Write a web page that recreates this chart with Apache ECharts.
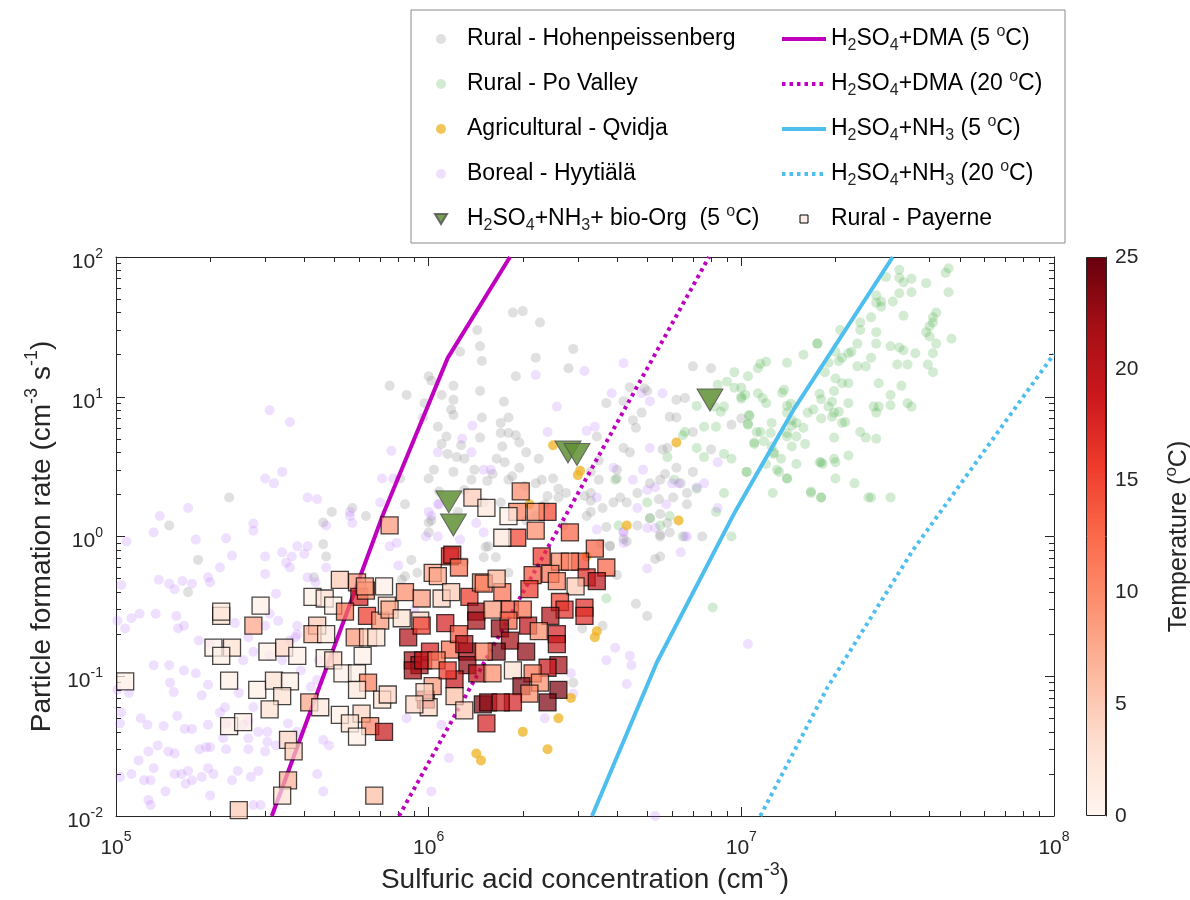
<!DOCTYPE html>
<html>
<head>
<meta charset="utf-8">
<title>Particle formation rate vs sulfuric acid</title>
<script src="https://cdn.jsdelivr.net/npm/echarts@6/dist/echarts.min.js"></script>
<style>
  html, body { margin: 0; padding: 0; background: #fff; }
  #main { width: 1190px; height: 900px; }
</style>
</head>
<body>
<div id="main"></div>
<script>
// ---- data: [H2SO4 (cm-3), J (cm-3 s-1)] ----
var hohenpeissenberg = [
    [7.5e5,12],[8.5e5,10.3],[1.0e6,14],[1.02e6,13],[1.1e6,10.3],[9.7e5,9.0],[9.6e5,7.1],[1.07e6,6.1],
    [1.14e6,5.2],[1.1e6,4.6],[1.04e6,3.0],[1.0e6,2.6],[8.1e5,2.6],[8.4e5,1.7],[6.3e5,1.4],[5.7e5,1.6],
    [4.9e5,1.5],[4.6e5,1.26],[4.6e5,0.88],[1.0e6,1.26],[1.0e6,1.07],[2.3e5,1.9],[1.48e5,1.2],[1.83e5,0.68],
    [1.7e5,0.4],[4.7e5,0.72],[4.3e5,0.51],[8.8e5,0.68],[9.2e5,0.55],[8.4e5,0.52],[8.2e5,0.49],
    [1.86e6,40],[2.0e6,41],[2.27e6,34],[1.43e6,30],[1.46e6,23],[1.26e6,21],[1.48e6,18],[2.2e6,19],
    [2.9e6,22],[1.9e6,14],[2.8e6,16],[1.2e6,12],[1.46e6,11],[1.2e6,9.5],[1.18e6,8.1],[1.2e6,7.4],
    [1.74e6,9.2],[1.48e6,7.1],[1.8e6,7.1],[1.7e6,6.5],[1.8e6,5.5],[1.7e6,5.5],[1.46e6,5.1],[1.9e6,5.3],
    [1.95e6,4.7],[1.27e6,4.5],[1.15e6,3.9],[1.23e6,3.7],[1.3e6,3.6],[2.05e6,4.0],[1.72e6,4.4],[1.65e6,3.6],
    [2.25e6,3.6],[1.75e6,3.4],[1.95e6,3.1],[1.4e6,3.0],[1.2e6,2.9],[1.6e6,2.8],[1.85e6,2.7],[2.5e6,2.6],
    [1.37e6,2.55],[2.3e6,2.55],[1.54e6,2.5],[1.8e6,2.55],[2.03e6,2.3],[2.2e6,2.4],[2.6e6,2.2],[1.08e6,2.1],
    [1.3e6,2.15],[2.4e6,1.95],[2.6e6,1.9],[2.75e6,2.05],[3.15e6,1.95],[3.3e6,1.8],[1.7e6,1.75],[1.5e6,1.75],
    [2.35e6,1.7],[1.24e6,1.5],[3.3e6,1.5],[3.6e6,1.6],[2.2e6,1.4],[2.05e6,1.3],[2.7e6,1.2],[3.2e6,1.4],
    [3.7e6,1.17],[1.02e6,1.3],[1.55e6,0.85],[3.8e6,0.86],
    [3.7e6,9],[4.2e6,9.3],[4.4e6,11.7],[4.9e6,11.5],[4.8e6,7.7],[4.5e6,6.8],[4.6e6,6.0],[3.45e6,5.2],
    [4.2e6,4.3],[4.4e6,4.0],[4.0e6,3.0],[4.0e6,2.6],[3.5e6,3.5],[3.5e6,2.55],[3.3e6,2.05],[4.1e6,1.9],
    [4.3e6,1.75],[4.65e6,2.05],[5.1e6,2.4],[5.5e6,2.55],[5.7e6,2.8],[6.2e6,3.1],[5.8e6,4.3],[5.6e6,4.2],
    [6.6e6,9.8],[6.2e6,9.5],[7.0e6,16.5],[8.0e6,16],[6.2e6,7.1],[7.0e6,5.6],[8.0e6,4.2],[7.0e6,2.9],
    [6.4e6,2.4],[6.7e6,2.05],[6.7e6,1.7],[6.05e6,1.9],[5.45e6,1.85],[5.5e6,1.45],[5.8e6,1.25],[5.1e6,1.35],
    [4.65e6,1.2],[7.5e6,1.0],[5.5e6,1.03],[9.3e6,6.3],[1.0e7,7.0],[5.0e6,11],[5.9e6,7.2],
    [4.0e6,0.53],[4.6e6,0.33],[5.0e6,0.27],[3.6e6,0.23],[3.1e6,0.22],[3.8e6,0.85],[5.5e6,0.72],[5.3e6,0.69],
    [5.9e6,1.07],[5.5e6,1.0],[2.9e6,0.09],[1.3e6,0.66],[1.52e6,0.84],[1.64e6,0.71],[1.8e6,0.55],[4.3e6,0.92],
    [3.3e6,2.9],[3.9e6,1.75],[4.2e6,0.96],[3.55e6,0.89],[1.5e6,0.71]
];

var poValley = [
    [3.2e7,81],[3.2e7,71],[3.3e7,66],[2.9e7,72],[3.5e7,70],[3.9e7,65],[4.5e7,77],[4.6e7,83],
    [4.6e7,56],[3.5e7,56],[3.2e7,55],[3.05e7,48],[2.8e7,48],[2.7e7,53],[2.7e7,47],[2.8e7,44],
    [2.6e7,37],[3.3e7,38],[4.2e7,40],[4.1e7,37],[4.1e7,34],[4.0e7,32],[3.9e7,29],[4.0e7,27],
    [4.7e7,26],[4.2e7,24],[2.7e7,29],[2.4e7,34],[2.4e7,30],[2.35e7,24],[2.35e7,16.5],[2.5e7,16.5],
    [2.7e7,24],[3.0e7,23],[3.2e7,22.5],[3.3e7,21.5],[3.6e7,20.5],[4.1e7,20.5],[3.95e7,17],[4.1e7,15],
    [3.15e7,17],[3.4e7,17],[2.6e7,19],[2.25e7,21],[2.2e7,20.5],[2.07e7,30],[1.75e7,24],[1.58e7,20],
    [1.4e7,17.5],[1.2e7,17.8],[1.15e7,17.2],[1.13e7,16],[1.05e7,14],[1.0e7,11.6],[1.0e7,9.7],[1.05e7,6.4],
    [1.06e7,7.4],[1.13e7,10.6],[1.17e7,9.8],[1.2e7,9.0],[1.15e7,5.6],[1.1e7,4.7],[1.18e7,4.8],[1.25e7,6.5],
    [1.24e7,5.5],[1.35e7,10.7],[1.37e7,11.2],[1.4e7,8.6],[1.44e7,8.9],[1.45e7,6.8],[1.5e7,6.5],[1.4e7,7.7],
    [1.4e7,5.5],[1.5e7,5.2],[1.58e7,6.0],[1.45e7,4.4],[1.34e7,3.6],[1.27e7,4.0],[1.5e7,3.3],[1.25e7,4.4],
    [1.3e7,3.0],[1.4e7,2.6],[1.26e7,2.05],[1.04e7,2.9],[1.67e7,2.1],[1.8e7,1.9],[1.78e7,3.4],[1.82e7,3.3],
    [2.0e7,3.4],[2.0e7,2.6],[1.98e7,3.6],[2.2e7,3.8],[2.55e7,1.9],[1.98e7,5.1],[2.4e7,5.6],[2.5e7,5.1],
    [2.7e7,5.0],[2.1e7,6.5],[2.15e7,6.6],[1.95e7,7.2],[1.8e7,7.0],[1.63e7,7.7],[1.7e7,8.1],[1.9e7,8.5],
    [1.98e7,7.7],[2.05e7,7.8],[1.95e7,9.2],[2.2e7,9.0],[1.98e7,11],[1.8e7,9.6],[1.78e7,10.5],[1.85e7,15],
    [2.0e7,13.5],[2.1e7,12.5],[2.2e7,12.5],[2.1e7,19],[2.0e7,21],[1.9e7,17.5],[2.05e7,18],[2.65e7,8.5],
    [2.75e7,8.5],[2.7e7,7.7],[3.5e7,8.5],[3.4e7,9.0],[3.0e7,8.7],[3.0e7,10.3],[3.25e7,12],[2.75e7,12.5],
    [1.75e7,24],[9.5e6,15],[9.0e6,12.8],[8.4e6,12.2],[9.5e6,11.6],[1.0e7,10],[1.03e7,10.3],[7.2e6,8.6],
    [8.2e6,8.5],[8.8e6,8.5],[8.6e6,7.8],[7.6e6,6.1],[8.3e6,6.1],[1.05e7,6.3],[1.06e7,7.3],[1.12e7,5.6],
    [1.1e7,4.6],[1.45e7,6.2],[1.4e7,5.2],[1.6e7,4.6],[1.27e7,3.9],[1.8e7,3.4],[1.8e7,1.9],[1.67e7,2.05],
    [1.4e7,2.6],[1.32e7,2.9],[1.2e7,3.3],[9.3e6,3.6],[8.8e6,3.9],[1.04e7,2.9],[8.8e6,2.05],[8.3e6,1.5],
    [9.3e6,1.0],[8.1e6,0.31],[5.8e6,3.7],[7.2e6,2.2],[5.1e6,1.35],[5.5e6,1.2],[6.5e6,1.0],[5.9e6,1.4],
    [4.05e6,1.2],[5.0e6,1.75],[3.7e6,0.36],[6.1e6,2.55],[3.95e6,2.55],[7.2e6,4.3],[6.6e6,5.6],[6.5e6,5.3],
    [7.6e6,3.7],[3.0e7,1.9],[2.6e7,1.9],[2.3e7,2.4]
];

var qvidja = [
    [2.5e6,4.5],[3.05e6,2.95],[3.0e6,2.75],[2.1e6,1.7],[6.2e6,4.7],[4.3e6,1.2],[6.3e6,1.3],
    [3.45e6,0.21],[3.4e6,0.19],[2.85e6,0.07],[2.6e6,0.05],[2.0e6,0.04],[2.4e6,0.03],[1.42e6,0.028],
    [1.47e6,0.025],[3.2e6,0.72]
];

var hyytiala = [
    [3.4e5,2.9],[3.0e5,2.6],[3.2e5,2.4],[4.1e5,1.9],[4.4e5,1.85],[1.38e5,1.4],[1.7e5,1.6],[1.32e5,1.07],
    [1.8e5,0.95],[2.25e5,0.97],[2.75e5,1.24],[2.75e5,1.1],[1.08e5,0.92],[2.35e5,0.73],[3.0e5,0.72],[3.4e5,0.77],
    [3.5e5,0.65],[3.6e5,0.6],[3.65e5,0.72],[3.8e5,0.85],[4.1e5,0.85],[4.0e5,0.75],[2.15e5,0.6],[3.0e5,0.54],
    [4.7e5,0.6],[1.37e5,0.49],[1.48e5,0.46],[1.63e5,0.48],[1.75e5,0.46],[1.54e5,0.42],[1.97e5,0.51],[2.0e5,0.47],
    [1.04e5,0.45],[3.25e5,0.39],[4.1e5,0.51],[4.35e5,0.47],[1.34e5,0.28],[1.56e5,0.27],[1.12e5,0.26],[1.19e5,0.28],
    [1.01e5,0.25],[1.07e5,0.22],[1.58e5,0.22],[1.65e5,0.23],[1.84e5,0.18],[2.0e5,0.17],[2.4e5,0.24],[2.65e5,0.19],
    [2.75e5,0.15],[2.55e5,0.13],[3.1e5,0.14],[3.6e5,0.18],[3.8e5,0.2],[4.2e5,0.22],[3.1e5,0.28],[1.32e5,0.12],
    [1.48e5,0.12],[1.65e5,0.11],[1.8e5,0.105],[1.49e5,0.09],[1.53e5,0.077],[1.1e5,0.076],[1.88e5,0.073],[1.97e5,0.087],
    [2.47e5,0.076],[2.23e5,0.06],[2.15e5,0.055],[1.2e5,0.05],[1.26e5,0.045],[1.03e5,0.046],[1.42e5,0.044],[1.57e5,0.052],
    [1.66e5,0.042],[1.75e5,0.042],[1.97e5,0.045],[2.2e5,0.036],[2.25e5,0.046],[2.55e5,0.045],[2.65e5,0.036],[2.85e5,0.04],
    [3.05e5,0.04],[1.36e5,0.032],[1.27e5,0.029],[1.47e5,0.029],[1.54e5,0.028],[1.85e5,0.03],[1.94e5,0.031],[2.0e5,0.031],
    [2.25e5,0.03],[2.65e5,0.03],[3.0e5,0.029],[1.18e5,0.025],[1.32e5,0.022],[1.12e5,0.02],[1.03e5,0.019],[1.23e5,0.018],
    [1.29e5,0.018],[1.44e5,0.015],[1.54e5,0.02],[1.62e5,0.02],[1.7e5,0.021],[1.67e5,0.017],[1.75e5,0.018],[1.88e5,0.019],
    [1.97e5,0.022],[2.05e5,0.02],[2.35e5,0.018],[2.45e5,0.021],[2.7e5,0.019],[2.85e5,0.021],[2.0e5,0.014],[1.27e5,0.013],
    [1.29e5,0.012],[2.75e5,0.012],[2.9e5,0.012],[4.4e5,0.02],[4.6e5,0.015],[4.6e5,0.035],[4.8e5,0.032],[2.65e5,0.048],
    [2.75e5,0.06],[3.8e5,0.04],[3.05e5,0.034],[3.25e5,0.032],[3.55e5,0.046],[3.4e5,0.13],[3.9e5,0.11],[4.45e5,0.13],
    [4.2e5,0.084],[4.4e5,0.094],[3.0e5,0.23],[3.8e5,0.23],[3.3e5,0.25],[3.75e5,0.19],[1.01e5,0.08],[1.04e5,0.055],
    [3.1e5,8],[3.6e5,6.6],[5.6e5,1.5],[5.6e5,1.4],[5.7e5,1.25],[4.7e5,1.2],[7.0e5,1.75],[7.1e5,2.6],
    [7.6e5,4.1],[7.7e5,2.6],[1.07e6,4.0],[1.07e6,1.7],[1.02e6,1.4],[1.07e6,1.0],[9.8e5,1.0],[7.5e5,0.85],
    [7.9e5,0.9],[2.2e6,14.3],[3.15e6,15.3],[4.2e6,17.4],[3.85e6,10.6],[4.8e6,10.6],[5.1e6,9.3],[5.6e6,10.6],
    [2.57e6,8.5],[1.38e6,6.2],[1.28e6,5.0],[1.37e6,4.0],[2.4e6,5.6],[3.2e6,5.7],[3.4e6,6.1],[5.1e6,4.3],
    [4.85e6,3.0],[1.58e6,3.0],[1.5e6,3.0],[3.9e6,3.1],[5.3e6,2.25],[5.0e6,2.15],[4.5e6,2.55],[7.2e6,2.25],
    [7.6e6,2.4],[8.4e6,1.6],[5.75e6,1.7],[4.65e6,1.6],[3.45e6,1.9],[1.26e6,0.95],[1.5e6,1.07],[1.42e6,1.25],
    [1.0e6,1.5],[1.08e6,1.7],[4.2e6,1.08],[4.2e6,0.9],[5.3e6,1.15],[6.7e6,1.0],[6.4e6,0.77],[5.0e6,0.59],
    [3.95e6,0.16],[3.7e6,0.13],[4.4e6,0.14],[4.45e6,0.12],[4.3e6,0.088],[1.05e7,0.17],[2.85e6,0.105],[2.9e6,0.075],
    [2.35e6,0.05],[1.16e6,0.026],[1.02e6,0.015],[5.3e6,0.01],[6.0e6,2.4],[6.3e6,2.4],[8.4e6,3.4],[3.45e6,1.12],
    [4.2e6,1.07],[5.0e6,1.15],[6.6e6,1.0],[8.0e5,0.62],[9.0e5,0.3],[6.5e5,0.045],[8.5e5,0.05],[1.1e6,0.045]
];

// H2SO4+NH3+bio-Org (5 oC) chamber points
var bioOrg = [[1.16e6,1.77],[1.2e6,1.21],[2.79e6,4.02],[2.98e6,3.86],[7.94e6,9.48]];

// Payerne: [H2SO4, J, temperature oC]
var payerne = [
    [1.07e5,0.092,1],[2.17e5,0.27,3],[2.17e5,0.29,2],[2.9e5,0.32,1],[2.75e5,0.23,8],[2.05e5,0.16,1],
    [2.35e5,0.16,3],[2.17e5,0.14,1],[3.05e5,0.15,1],[3.45e5,0.16,4],[3.8e5,0.14,1],[2.3e5,0.093,1],
    [2.83e5,0.08,1],[3.2e5,0.093,3],[3.6e5,0.092,1],[3.4e5,0.072,3],[3.1e5,0.058,3],[4.15e5,0.065,8],
    [4.5e5,0.06,2],[2.3e5,0.044,1],[2.55e5,0.047,1],[3.55e5,0.035,4],[3.7e5,0.029,5],[3.55e5,0.018,7],
    [3.4e5,0.014,3],[2.47e5,0.011,5],
    [5.2e5,0.49,5],[7.2e5,0.44,1],[5.9e5,0.47,9],[6.0e5,0.37,18],[6.3e5,0.41,10],[4.25e5,0.37,1],
    [4.65e5,0.36,3],[4.95e5,0.32,1],[5.4e5,0.29,12],[6.35e5,0.27,16],[7.0e5,0.25,9],[7.35e5,0.32,4],
    [4.4e5,0.23,5],[4.25e5,0.2,7],[4.7e5,0.2,2],[5.8e5,0.19,9],[6.4e5,0.19,5],[6.8e5,0.19,3],
    [6.15e5,0.14,1],[4.65e5,0.135,1],[4.95e5,0.13,4],[5.3e5,0.105,1],[5.9e5,0.105,1],[6.4e5,0.09,11],
    [5.9e5,0.08,2],[7.1e5,0.068,3],[7.4e5,0.074,4],[5.2e5,0.053,1],[6.1e5,0.054,4],[5.6e5,0.046,3],
    [6.5e5,0.044,10],[7.2e5,0.04,19],[5.9e5,0.037,1],[6.7e5,0.014,6],[8.9e5,0.13,21],[9.35e5,0.12,21],
    [9.8e5,0.068,18],[1.0e6,0.06,4],[1.03e6,0.085,9],[1.17e6,0.72,17],[1.03e6,0.55,8],
    [7.5e5,1.2,9],[1.19e6,0.74,18],[1.38e6,1.9,5],[1.53e6,1.6,2],[1.07e6,0.52,8],[6.25e5,0.44,9],
    [8.4e5,0.4,10],[9.5e5,0.36,9],[1.1e6,0.36,4],[1.18e6,0.4,5],[1.35e6,0.37,16],[1.47e6,0.47,10],
    [1.42e6,0.29,22],[7.5e5,0.3,8],[8.2e5,0.26,3],[9.4e5,0.25,4],[1.13e6,0.24,18],[1.42e6,0.25,22],
    [8.6e5,0.19,21],[9.5e5,0.23,16],[1.01e6,0.15,18],[1.17e6,0.155,12],[1.33e6,0.15,22],[8.9e5,0.11,22],
    [9.6e5,0.13,20],[1.06e6,0.13,12],[1.33e6,0.12,23],[1.43e6,0.105,20],[9.7e5,0.077,4],[9.0e5,0.063,4],
    [1.21e6,0.095,19],[1.21e6,0.072,6],[1.3e6,0.057,5],[1.49e6,0.063,24],[1.53e6,0.046,18],
    [1.97e6,2.1,10],[1.92e6,1.5,11],[1.8e6,1.4,1],[2.4e6,1.5,15],[2.2e6,1.5,10],[2.2e6,1.1,10],
    [1.92e6,0.98,15],[1.72e6,0.98,2],[2.83e6,1.07,13],[3.4e6,0.82,13],[2.3e6,0.72,16],[2.63e6,0.66,10],
    [3.05e6,0.66,15],[2.83e6,0.66,11],[3.7e6,0.6,13],[3.2e6,0.51,17],[3.45e6,0.48,20],[2.15e6,0.53,14],
    [2.45e6,0.54,12],[2.1e6,0.42,16],[1.72e6,0.4,12],[1.5e6,0.46,11],[2.57e6,0.48,11],[2.95e6,0.44,5],
    [1.82e6,0.3,14],[2.0e6,0.3,12],[2.63e6,0.34,15],[2.72e6,0.3,17],[3.15e6,0.31,17],[2.45e6,0.27,21],
    [3.15e6,0.27,17],[1.8e6,0.25,13],[2.08e6,0.23,20],[1.69e6,0.22,23],[1.82e6,0.18,22],[2.57e6,0.2,18],
    [2.57e6,0.17,19],[2.25e6,0.21,10],[2.05e6,0.15,23],[1.65e6,0.15,24],[1.5e6,0.15,11],[2.6e6,0.12,22],
    [2.4e6,0.115,19],[2.15e6,0.105,12],[1.86e6,0.11,3],[1.6e6,0.105,10],[1.98e6,0.085,24],[2.27e6,0.09,10],
    [2.6e6,0.08,24],[2.4e6,0.065,24],[2.1e6,0.075,10],[1.86e6,0.065,18],[1.55e6,0.065,23],[1.7e6,0.065,19],
    [1.25e6,0.2,14],[1.6e6,0.3,9],[1.3e6,0.17,21],[1.15e6,0.11,16],[1.65e6,0.5,7],[1.25e6,0.6,12]
];

// model curves
var dmaCold = [[3.15e5,0.01],[7.14e5,1.43],[1.15e6,18.9],[1.82e6,100]];
var dmaWarm = [[8.04e5,0.01],[7.88e6,100]];
var nh3Cold = [[3.33e6,0.01],[5.37e6,0.126],[9.54e6,1.5],[1.48e7,8.3],[3.05e7,100]];
var nh3Warm = [[1.15e7,0.01],[1.89e7,0.084],[3.54e7,0.8],[1e8,20.2]];

var tempRange = [0, 25];
var tempStep = 5;

var reds = ['#fff5f0','#fee0d2','#fcbba1','#fc9272','#fb6a4a','#ef3b2c','#cb181d','#a50f15','#67000d'];
var ink = '#262626';
var font = "'Liberation Sans', Arial, Helvetica, sans-serif";

// minor tick positions (in decades) for the log axes
function minorTicks(from, to){
    var out = [];
    for (var n = from; n < to; n++) {
        for (var k = 2; k <= 9; k++) out.push(n + Math.log10(k));
    }
    return out;
}

function richName(s){
    return s.replace(/([A-Z])(\d)/g, '$1{sub|$2}').replace(' oC', ' {sup|o}C');
}

function powLabel(v){
    return '10{e|' + Math.round(Math.log10(v)) + '}';
}

function majorLine(show){
    return { show: show, onZero: false, lineStyle: { color: ink, width: 1 } };
}

var subSup = {
    sub: { fontSize: 16, lineHeight: 16, verticalAlign: 'bottom' },
    sup: { fontSize: 16, lineHeight: 16, verticalAlign: 'top' }
};
var noDot = { opacity: 0 };

var chart = echarts.init(document.getElementById('main'));

var option = {
    animation: false,
    backgroundColor: '#fff',
    textStyle: { fontFamily: font, color: ink },
    graphic: [{
        type: 'rect', z: 1,
        shape: { x: 411, y: 10, width: 654, height: 233 },
        style: { fill: '#fff', stroke: '#8a8a8a', lineWidth: 1 }
    }],
    grid: [
        { left: 116, right: 136, top: 257, bottom: 84, outerBoundsMode: 'none' },
        { left: 1086, right: 84, top: 257, bottom: 84, outerBoundsMode: 'none' }
    ],
    legend: [{
        orient: 'vertical', left: 429, top: 19, z: 5,
        itemWidth: 12, itemHeight: 10, itemGap: 15, itemTextGap: 21,
        selectedMode: false,
        data: ['Rural - Hohenpeissenberg', 'Rural - Po Valley', 'Agricultural - Qvidja', 'Boreal - Hyytiälä',
               { name: 'H2SO4+NH3+ bio-Org  (5 oC)', icon: 'path://M0,0L12,0L6,10Z' }],
        formatter: richName,
        textStyle: { fontSize: 23, lineHeight: 30, color: '#000', fontFamily: font,
                     padding: [0, 0, 0, 15], rich: subSup }
    }, {
        orient: 'vertical', left: 775, top: 19, z: 5,
        itemWidth: 44, itemHeight: 8, itemGap: 15, itemTextGap: 5,
        selectedMode: false,
        lineStyle: { width: 4 },
        data: [{ name: 'H2SO4+DMA (5 oC)', itemStyle: noDot }, { name: 'H2SO4+DMA (20 oC)', itemStyle: noDot },
               { name: 'H2SO4+NH3 (5 oC)', itemStyle: noDot }, { name: 'H2SO4+NH3 (20 oC)', itemStyle: noDot },
               { name: 'Rural - Payerne', icon: 'path://M0,0H10V10H0Z',
                 itemStyle: { color: '#fdeee8', borderColor: '#000', borderWidth: 1, opacity: 1 } }],
        formatter: richName,
        textStyle: { fontSize: 23, lineHeight: 30, color: '#000', fontFamily: font, rich: subSup }
    }],
    visualMap: {
        type: 'continuous', show: false, seriesIndex: 8, dimension: 2,
        min: tempRange[0], max: tempRange[1],
        inRange: { color: reds }
    },
    xAxis: [{
        type: 'log', logBase: 10, min: 1e5, max: 1e8, position: 'bottom', gridIndex: 0,
        axisLine: majorLine(true),
        axisTick: { inside: true, length: 9, lineStyle: { color: ink } },
        splitLine: { show: false },
        axisLabel: { formatter: powLabel, fontSize: 21, lineHeight: 36, margin: 14, color: ink,
                     rich: { e: { fontSize: 14, lineHeight: 14, verticalAlign: 'top' } } },
        name: 'Sulfuric acid concentration (cm{sup|-3})',
        nameLocation: 'middle', nameGap: 45, nameMoveOverlap: false,
        nameTextStyle: { fontSize: 28, lineHeight: 38, color: ink,
                         rich: { sup: { fontSize: 18, lineHeight: 18, verticalAlign: 'top' } } }
    }, {
        type: 'value', min: 5, max: 8, position: 'bottom', gridIndex: 0,
        axisLine: majorLine(false),
        axisTick: { inside: true, length: 5, customValues: minorTicks(5, 8), lineStyle: { color: ink } },
        axisLabel: { show: false }, splitLine: { show: false }
    }, {
        type: 'log', logBase: 10, min: 1e5, max: 1e8, position: 'top', gridIndex: 0,
        axisLine: majorLine(true),
        axisTick: { inside: true, length: 9, lineStyle: { color: ink } },
        axisLabel: { show: false }, splitLine: { show: false }
    }, {
        type: 'value', min: 5, max: 8, position: 'top', gridIndex: 0,
        axisLine: majorLine(false),
        axisTick: { inside: true, length: 5, customValues: minorTicks(5, 8), lineStyle: { color: ink } },
        axisLabel: { show: false }, splitLine: { show: false }
    }, {
        type: 'category', gridIndex: 1, data: ['T'], show: false
    }],
    yAxis: [{
        type: 'log', logBase: 10, min: 1e-2, max: 1e2, position: 'left', gridIndex: 0,
        axisLine: majorLine(true),
        axisTick: { inside: true, length: 9, lineStyle: { color: ink } },
        splitLine: { show: false },
        axisLabel: { formatter: powLabel, fontSize: 21, lineHeight: 30, margin: 13, color: ink,
                     padding: [10, 0, 0, 0],
                     rich: { e: { fontSize: 14, lineHeight: 14, verticalAlign: 'top' } } },
        name: 'Particle formation rate (cm{sup|-3} s{sup|-1})',
        nameLocation: 'middle', nameGap: 55, nameMoveOverlap: false,
        nameTextStyle: { fontSize: 28, lineHeight: 38, color: ink,
                         rich: { sup: { fontSize: 18, lineHeight: 18, verticalAlign: 'top' } } }
    }, {
        type: 'value', min: -2, max: 2, position: 'left', gridIndex: 0,
        axisLine: majorLine(false),
        axisTick: { inside: true, length: 5, customValues: minorTicks(-2, 2), lineStyle: { color: ink } },
        axisLabel: { show: false }, splitLine: { show: false }
    }, {
        type: 'log', logBase: 10, min: 1e-2, max: 1e2, position: 'right', gridIndex: 0,
        axisLine: majorLine(true),
        axisTick: { inside: true, length: 9, lineStyle: { color: ink } },
        axisLabel: { show: false }, splitLine: { show: false }
    }, {
        type: 'value', min: -2, max: 2, position: 'right', gridIndex: 0,
        axisLine: majorLine(false),
        axisTick: { inside: true, length: 5, customValues: minorTicks(-2, 2), lineStyle: { color: ink } },
        axisLabel: { show: false }, splitLine: { show: false }
    }, {
        // colorbar scale
        type: 'value', min: tempRange[0], max: tempRange[1], interval: tempStep,
        position: 'right', gridIndex: 1,
        axisLine: majorLine(true),
        axisTick: { inside: true, length: 5, lineStyle: { color: ink } },
        splitLine: { show: false },
        axisLabel: { fontSize: 21, margin: 9, color: ink },
        name: 'Temperature ({sup|o}C)',
        nameLocation: 'middle', nameGap: 57,
        nameTextStyle: { fontSize: 25, lineHeight: 32, color: ink,
                         rich: { sup: { fontSize: 17, lineHeight: 17, verticalAlign: 'top' } } }
    }],
    series: [{
        name: 'Rural - Hohenpeissenberg', type: 'scatter', z: 2,
        data: hohenpeissenberg, symbolSize: 10,
        itemStyle: { color: '#999999', opacity: 0.3 }
    }, {
        name: 'Rural - Po Valley', type: 'scatter', z: 2,
        data: poValley, symbolSize: 10,
        itemStyle: { color: '#4daf4a', opacity: 0.25 }
    }, {
        name: 'Boreal - Hyytiälä', type: 'scatter', z: 2,
        data: hyytiala, symbolSize: 10,
        itemStyle: { color: '#b266ff', opacity: 0.2 }
    }, {
        name: 'Agricultural - Qvidja', type: 'scatter', z: 2,
        data: qvidja, symbolSize: 10,
        itemStyle: { color: '#edb120', opacity: 0.75 }
    }, {
        name: 'H2SO4+DMA (5 oC)', type: 'line', z: 3, data: dmaCold, symbol: 'none',
        lineStyle: { color: '#bf00bf', width: 4 }
    }, {
        name: 'H2SO4+DMA (20 oC)', type: 'line', z: 3, data: dmaWarm, symbol: 'none',
        lineStyle: { color: '#bf00bf', width: 4, type: [3.5, 4] }
    }, {
        name: 'H2SO4+NH3 (5 oC)', type: 'line', z: 3, data: nh3Cold, symbol: 'none',
        lineStyle: { color: '#4dbeee', width: 4 }
    }, {
        name: 'H2SO4+NH3 (20 oC)', type: 'line', z: 3, data: nh3Warm, symbol: 'none',
        lineStyle: { color: '#4dbeee', width: 4, type: [3.5, 4] }
    }, {
        name: 'Rural - Payerne', type: 'scatter', z: 5,
        data: payerne, symbol: 'rect', symbolSize: 17,
        itemStyle: { opacity: 0.72, borderColor: '#000', borderWidth: 1.3 }
    }, {
        name: 'H2SO4+NH3+ bio-Org  (5 oC)', type: 'scatter', z: 4,
        data: bioOrg, symbol: 'triangle', symbolRotate: 180, symbolSize: [26, 22],
        itemStyle: { color: '#5f8f35', opacity: 0.85, borderColor: '#555', borderWidth: 1 }
    }, {
        // colorbar
        type: 'bar', xAxisIndex: 4, yAxisIndex: 4, silent: true,
        data: [tempRange[1]], barWidth: '100%',
        itemStyle: {
            borderColor: ink, borderWidth: 1,
            color: new echarts.graphic.LinearGradient(0, 1, 0, 0, reds.map(function(c, i){
                return { offset: i / (reds.length - 1), color: c };
            }))
        }
    }]
};

// main series all sit on the first (log) axes
option.series.forEach(function(s, i){
    if (i < 10) { s.xAxisIndex = 0; s.yAxisIndex = 0; }
});

chart.setOption(option);
</script>
</body>
</html>
